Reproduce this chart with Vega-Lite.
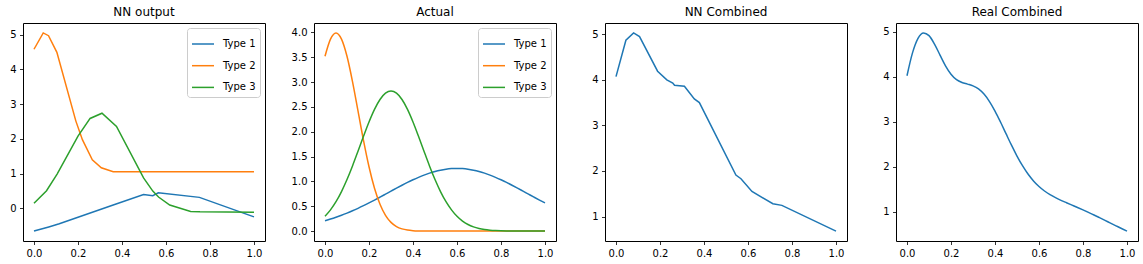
{
  "$schema": "https://vega.github.io/schema/vega-lite/v6.json",
  "padding": {"left": 9, "top": 5, "right": 5, "bottom": 5},
  "background": "white",
  "datasets": {
    "nn": [
      {"x": 0.0, "type": "Type 1", "y": -0.65},
      {"x": 0.067, "type": "Type 1", "y": -0.53},
      {"x": 0.115, "type": "Type 1", "y": -0.44},
      {"x": 0.36, "type": "Type 1", "y": 0.10},
      {"x": 0.498, "type": "Type 1", "y": 0.40},
      {"x": 0.54, "type": "Type 1", "y": 0.37},
      {"x": 0.565, "type": "Type 1", "y": 0.45},
      {"x": 0.752, "type": "Type 1", "y": 0.32},
      {"x": 1.0, "type": "Type 1", "y": -0.24},
      {"x": 0.0, "type": "Type 2", "y": 4.58},
      {"x": 0.042, "type": "Type 2", "y": 5.05},
      {"x": 0.066, "type": "Type 2", "y": 4.97},
      {"x": 0.104, "type": "Type 2", "y": 4.49},
      {"x": 0.19, "type": "Type 2", "y": 2.52},
      {"x": 0.22, "type": "Type 2", "y": 1.98},
      {"x": 0.265, "type": "Type 2", "y": 1.40},
      {"x": 0.306, "type": "Type 2", "y": 1.17},
      {"x": 0.36, "type": "Type 2", "y": 1.055},
      {"x": 1.0, "type": "Type 2", "y": 1.058},
      {"x": 0.0, "type": "Type 3", "y": 0.15},
      {"x": 0.057, "type": "Type 3", "y": 0.51},
      {"x": 0.105, "type": "Type 3", "y": 0.99},
      {"x": 0.2, "type": "Type 3", "y": 2.08},
      {"x": 0.255, "type": "Type 3", "y": 2.59},
      {"x": 0.309, "type": "Type 3", "y": 2.74},
      {"x": 0.375, "type": "Type 3", "y": 2.36},
      {"x": 0.498, "type": "Type 3", "y": 0.88},
      {"x": 0.54, "type": "Type 3", "y": 0.50},
      {"x": 0.566, "type": "Type 3", "y": 0.33},
      {"x": 0.617, "type": "Type 3", "y": 0.10},
      {"x": 0.712, "type": "Type 3", "y": -0.087},
      {"x": 0.754, "type": "Type 3", "y": -0.095},
      {"x": 1.0, "type": "Type 3", "y": -0.105}
    ],
    "actual": [
      {"x": 0.0, "Type 1": 0.2085, "Type 2": 3.520, "Type 3": 0.2973},
      {"x": 0.025, "Type 1": 0.2416, "Type 2": 3.866, "Type 3": 0.4260},
      {"x": 0.05, "Type 1": 0.2781, "Type 2": 3.989, "Type 3": 0.5913},
      {"x": 0.075, "Type 1": 0.3181, "Type 2": 3.866, "Type 3": 0.7958},
      {"x": 0.1, "Type 1": 0.3615, "Type 2": 3.520, "Type 3": 1.0378},
      {"x": 0.125, "Type 1": 0.4083, "Type 2": 3.011, "Type 3": 1.3118},
      {"x": 0.15, "Type 1": 0.4583, "Type 2": 2.420, "Type 3": 1.6074},
      {"x": 0.175, "Type 1": 0.5113, "Type 2": 1.826, "Type 3": 1.9087},
      {"x": 0.2, "Type 1": 0.5669, "Type 2": 1.295, "Type 3": 2.1970},
      {"x": 0.225, "Type 1": 0.6245, "Type 2": 0.863, "Type 3": 2.4509},
      {"x": 0.25, "Type 1": 0.6838, "Type 2": 0.540, "Type 3": 2.6500},
      {"x": 0.275, "Type 1": 0.7440, "Type 2": 0.3175, "Type 3": 2.7773},
      {"x": 0.3, "Type 1": 0.8044, "Type 2": 0.1753, "Type 3": 2.821},
      {"x": 0.325, "Type 1": 0.8645, "Type 2": 0.0910, "Type 3": 2.7773},
      {"x": 0.35, "Type 1": 0.9230, "Type 2": 0.0443, "Type 3": 2.6500},
      {"x": 0.375, "Type 1": 0.9795, "Type 2": 0.0203, "Type 3": 2.4509},
      {"x": 0.4, "Type 1": 1.0329, "Type 2": 0.0087, "Type 3": 2.1970},
      {"x": 0.425, "Type 1": 1.0824, "Type 2": 0.0035, "Type 3": 1.9087},
      {"x": 0.45, "Type 1": 1.1274, "Type 2": 0.0013, "Type 3": 1.6074},
      {"x": 0.475, "Type 1": 1.1667, "Type 2": 0.0005, "Type 3": 1.3118},
      {"x": 0.5, "Type 1": 1.2001, "Type 2": 0.0002, "Type 3": 1.0378},
      {"x": 0.525, "Type 1": 1.2267, "Type 2": 0.0001, "Type 3": 0.7958},
      {"x": 0.55, "Type 1": 1.2459, "Type 2": 0.0, "Type 3": 0.5913},
      {"x": 0.575, "Type 1": 1.2577, "Type 2": 0.0, "Type 3": 0.4260},
      {"x": 0.6, "Type 1": 1.2616, "Type 2": 0.0, "Type 3": 0.2973},
      {"x": 0.625, "Type 1": 1.2577, "Type 2": 0.0, "Type 3": 0.2012},
      {"x": 0.65, "Type 1": 1.2459, "Type 2": 0.0, "Type 3": 0.1319},
      {"x": 0.675, "Type 1": 1.2267, "Type 2": 0.0, "Type 3": 0.0839},
      {"x": 0.7, "Type 1": 1.2001, "Type 2": 0.0, "Type 3": 0.0517},
      {"x": 0.725, "Type 1": 1.1667, "Type 2": 0.0, "Type 3": 0.0309},
      {"x": 0.75, "Type 1": 1.1274, "Type 2": 0.0, "Type 3": 0.0179},
      {"x": 0.775, "Type 1": 1.0824, "Type 2": 0.0, "Type 3": 0.0100},
      {"x": 0.8, "Type 1": 1.0329, "Type 2": 0.0, "Type 3": 0.0054},
      {"x": 0.825, "Type 1": 0.9795, "Type 2": 0.0, "Type 3": 0.0029},
      {"x": 0.85, "Type 1": 0.9230, "Type 2": 0.0, "Type 3": 0.0015},
      {"x": 0.875, "Type 1": 0.8645, "Type 2": 0.0, "Type 3": 0.0007},
      {"x": 0.9, "Type 1": 0.8044, "Type 2": 0.0, "Type 3": 0.0004},
      {"x": 0.925, "Type 1": 0.7440, "Type 2": 0.0, "Type 3": 0.0002},
      {"x": 0.95, "Type 1": 0.6838, "Type 2": 0.0, "Type 3": 0.0001},
      {"x": 0.975, "Type 1": 0.6245, "Type 2": 0.0, "Type 3": 0.0},
      {"x": 1.0, "Type 1": 0.5669, "Type 2": 0.0, "Type 3": 0.0}
    ],
    "nncomb": [
      {"x": 0.0, "y": 4.07},
      {"x": 0.045, "y": 4.87},
      {"x": 0.08, "y": 5.03},
      {"x": 0.107, "y": 4.95},
      {"x": 0.189, "y": 4.19},
      {"x": 0.231, "y": 4.0},
      {"x": 0.258, "y": 3.93},
      {"x": 0.266, "y": 3.88},
      {"x": 0.311, "y": 3.86},
      {"x": 0.356, "y": 3.58},
      {"x": 0.379, "y": 3.50},
      {"x": 0.545, "y": 1.91},
      {"x": 0.568, "y": 1.83},
      {"x": 0.618, "y": 1.55},
      {"x": 0.713, "y": 1.28},
      {"x": 0.754, "y": 1.245},
      {"x": 1.0, "y": 0.68}
    ],
    "realcomb": [
      {"x": 0.0, "y": 4.026},
      {"x": 0.025, "y": 4.534},
      {"x": 0.05, "y": 4.858},
      {"x": 0.075, "y": 4.980},
      {"x": 0.1, "y": 4.919},
      {"x": 0.125, "y": 4.731},
      {"x": 0.15, "y": 4.486},
      {"x": 0.175, "y": 4.246},
      {"x": 0.2, "y": 4.059},
      {"x": 0.225, "y": 3.938},
      {"x": 0.25, "y": 3.874},
      {"x": 0.275, "y": 3.839},
      {"x": 0.3, "y": 3.801},
      {"x": 0.325, "y": 3.733},
      {"x": 0.35, "y": 3.617},
      {"x": 0.375, "y": 3.451},
      {"x": 0.4, "y": 3.239},
      {"x": 0.425, "y": 2.995},
      {"x": 0.45, "y": 2.736},
      {"x": 0.475, "y": 2.479},
      {"x": 0.5, "y": 2.238},
      {"x": 0.525, "y": 2.023},
      {"x": 0.55, "y": 1.837},
      {"x": 0.575, "y": 1.684},
      {"x": 0.6, "y": 1.559},
      {"x": 0.625, "y": 1.459},
      {"x": 0.65, "y": 1.378},
      {"x": 0.675, "y": 1.311},
      {"x": 0.7, "y": 1.252},
      {"x": 0.725, "y": 1.198},
      {"x": 0.75, "y": 1.145},
      {"x": 0.775, "y": 1.092},
      {"x": 0.8, "y": 1.038},
      {"x": 0.825, "y": 0.982},
      {"x": 0.85, "y": 0.925},
      {"x": 0.875, "y": 0.865},
      {"x": 0.9, "y": 0.805},
      {"x": 0.925, "y": 0.744},
      {"x": 0.95, "y": 0.684},
      {"x": 0.975, "y": 0.6245},
      {"x": 1.0, "y": 0.5669}
    ]
  },
  "bounds": "flush",
  "spacing": 49,
  "resolve": {"legend": {"color": "independent"}},
  "hconcat": [
    {
      "title": "NN output",
      "width": 242,
      "height": 218,
      "data": {"name": "nn"},
      "mark": {"type": "line", "strokeWidth": 1.5, "clip": true},
      "encoding": {
        "x": {"field": "x", "type": "quantitative", "scale": {"domain": [-0.05, 1.05], "nice": false, "zero": false}, "axis": {"values": [0, 0.2, 0.4, 0.6, 0.8, 1.0], "format": ".1f"}},
        "y": {"field": "y", "type": "quantitative", "scale": {"domain": [-0.935, 5.335], "nice": false, "zero": false}, "axis": {"values": [0, 1, 2, 3, 4, 5], "format": "d"}},
        "color": {"field": "type", "type": "nominal", "scale": {"domain": ["Type 1", "Type 2", "Type 3"], "range": ["#1f77b4", "#ff7f0e", "#2ca02c"]}, "legend": {"orient": "top-right", "offset": 5}}
      }
    },
    {
      "title": "Actual",
      "width": 242,
      "height": 218,
      "data": {"name": "actual"},
      "transform": [{"fold": ["Type 1", "Type 2", "Type 3"], "as": ["type", "y"]}],
      "mark": {"type": "line", "strokeWidth": 1.5, "interpolate": "monotone", "clip": true},
      "encoding": {
        "x": {"field": "x", "type": "quantitative", "scale": {"domain": [-0.05, 1.05], "nice": false, "zero": false}, "axis": {"values": [0, 0.2, 0.4, 0.6, 0.8, 1.0], "format": ".1f"}},
        "y": {"field": "y", "type": "quantitative", "scale": {"domain": [-0.2, 4.19], "nice": false, "zero": false}, "axis": {"values": [0, 0.5, 1, 1.5, 2, 2.5, 3, 3.5, 4], "format": ".1f"}},
        "color": {"field": "type", "type": "nominal", "scale": {"domain": ["Type 1", "Type 2", "Type 3"], "range": ["#1f77b4", "#ff7f0e", "#2ca02c"]}, "legend": {"orient": "top-right", "offset": 5}}
      }
    },
    {
      "title": "NN Combined",
      "width": 242,
      "height": 218,
      "data": {"name": "nncomb"},
      "mark": {"type": "line", "strokeWidth": 1.5, "color": "#1f77b4", "clip": true},
      "encoding": {
        "x": {"field": "x", "type": "quantitative", "scale": {"domain": [-0.05, 1.05], "nice": false, "zero": false}, "axis": {"values": [0, 0.2, 0.4, 0.6, 0.8, 1.0], "format": ".1f"}},
        "y": {"field": "y", "type": "quantitative", "scale": {"domain": [0.4625, 5.2475], "nice": false, "zero": false}, "axis": {"values": [1, 2, 3, 4, 5], "format": "d"}}
      }
    },
    {
      "title": "Real Combined",
      "width": 242,
      "height": 218,
      "data": {"name": "realcomb"},
      "mark": {"type": "line", "strokeWidth": 1.5, "color": "#1f77b4", "interpolate": "monotone", "clip": true},
      "encoding": {
        "x": {"field": "x", "type": "quantitative", "scale": {"domain": [-0.05, 1.05], "nice": false, "zero": false}, "axis": {"values": [0, 0.2, 0.4, 0.6, 0.8, 1.0], "format": ".1f"}},
        "y": {"field": "y", "type": "quantitative", "scale": {"domain": [0.346, 5.2], "nice": false, "zero": false}, "axis": {"values": [1, 2, 3, 4, 5], "format": "d"}}
      }
    }
  ],
  "config": {
    "font": "DejaVu Sans",
    "view": {"stroke": "#000000", "strokeWidth": 1},
    "title": {"fontSize": 12, "fontWeight": "normal", "color": "#000000", "offset": 4, "font": "DejaVu Sans"},
    "axis": {
      "domain": false,
      "grid": false,
      "title": null,
      "ticks": true,
      "tickSize": 3.5,
      "tickColor": "#000000",
      "tickWidth": 0.8,
      "labelFontSize": 10,
      "labelColor": "#000000",
      "labelPadding": 3.5,
      "labelFont": "DejaVu Sans"
    },
    "legend": {
      "title": null,
      "symbolType": "stroke",
      "symbolSize": 484,
      "symbolStrokeWidth": 1.5,
      "labelFontSize": 10,
      "labelColor": "#000000",
      "labelFont": "DejaVu Sans",
      "labelOffset": 8,
      "rowPadding": 4.7,
      "padding": 4,
      "fillColor": "rgba(255,255,255,0.8)",
      "strokeColor": "#cccccc",
      "cornerRadius": 3
    }
  }
}
